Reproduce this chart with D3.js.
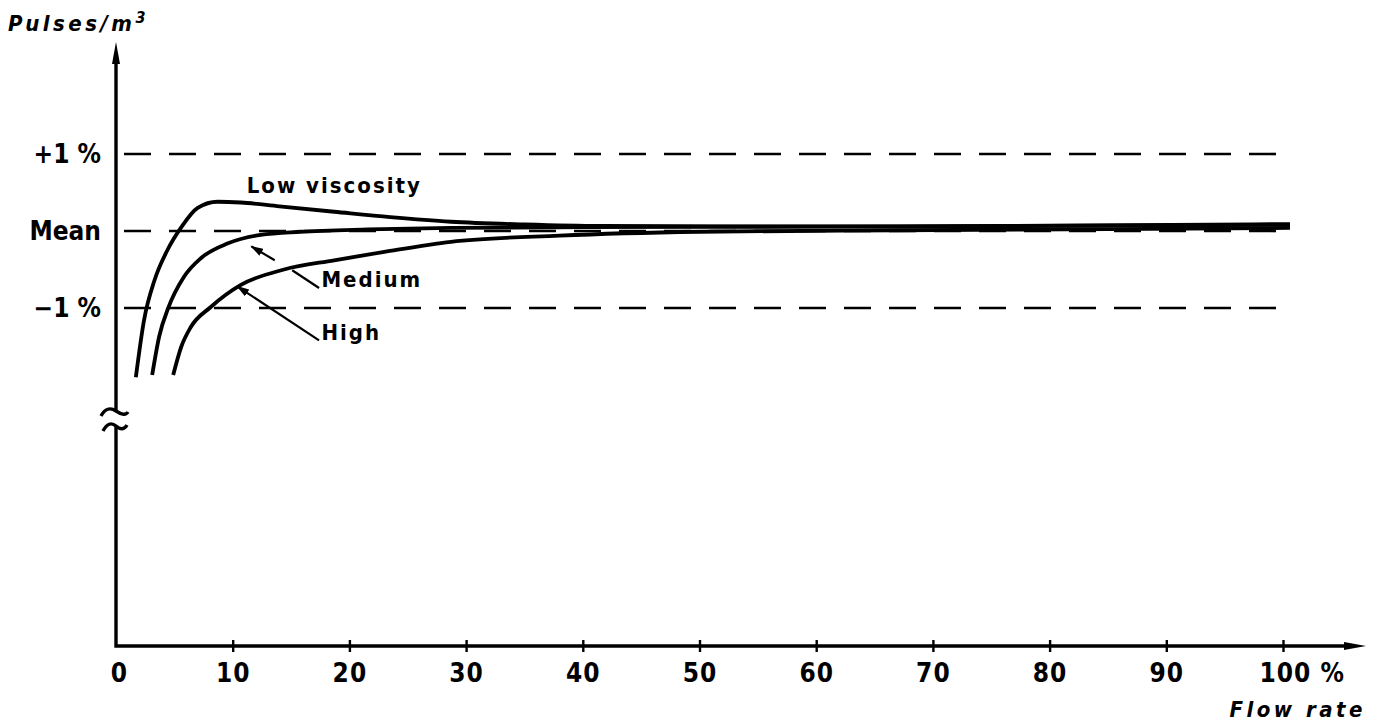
<!DOCTYPE html>
<html>
  <head>
    <meta charset="UTF-8">
    <style>
      body {
        margin: 0;
        background: white;
      }

      text {
        font-family: "DejaVu Sans Condensed", "DejaVu Sans", sans-serif;
        font-weight: bold;
        fill: #000;
      }

      .x-axis text {
        font-size: 26px;
        letter-spacing: 1px;
      }

      .y-axis text {
        font-size: 26px;
      }

      .note {
        font-size: 22px;
        letter-spacing: 2px;
      }

      .title {
        font-size: 22px;
        font-style: italic;
        letter-spacing: 3.5px;
      }
    </style>
    <script src="https://d3js.org/d3.v7.min.js"></script>
  </head>

  <body>
    <svg id="chart"></svg>

    <script type="text/javascript">
      // flow rate in %, deviation from mean in %
      let lowFlow = [1.7, 2.4, 3.3, 4.4, 5.6, 7.0, 8.7, 10.7, 14.0, 18.7, 23.5, 28.7, 35, 41.5, 55, 67, 80, 100.6]
      let lowDev = [-1.9, -1.16, -0.64, -0.25, 0.05, 0.30, 0.38, 0.37, 0.32, 0.25, 0.18, 0.12, 0.085, 0.065, 0.06, 0.06, 0.07, 0.09]

      let mediumFlow = [3.1, 3.7, 4.5, 5.8, 7.3, 9.6, 12.4, 15.8, 21.6, 28.7, 40, 55, 70, 85, 100.6]
      let mediumDev = [-1.87, -1.37, -0.99, -0.6, -0.35, -0.16, -0.05, -0.01, 0.02, 0.04, 0.05, 0.055, 0.06, 0.07, 0.08]

      let highFlow = [4.9, 5.6, 6.4, 8.1, 10.7, 14.4, 18.7, 23, 28.7, 38, 50, 67, 85, 100.6]
      let highDev = [-1.87, -1.5, -1.25, -0.99, -0.7, -0.5, -0.38, -0.27, -0.14, -0.06, -0.01, 0.01, 0.025, 0.04]

      let xTicks = [0, 10, 20, 30, 40, 50, 60, 70, 80, 90, 100]
      let xTickLabels = ['0', '10', '20', '30', '40', '50', '60', '70', '80', '90', '100 %']

      let yTicks = [1, 0, -1]
      let yTickLabels = ['+1 %', 'Mean', '−1 %']

      let seriesNames = ['Low viscosity', 'Medium', 'High']

      function getChartConfig() {
        let width = 1378
        let height = 724
        let origin = { x: 116, y: 646 }
        let axisTop = 42
        let axisRight = 1366
        let breakTop = 411
        let breakBottom = 426

        let container = d3.select('#chart')
          .attr('width', width)
          .attr('height', height)

        return { width, height, origin, axisTop, axisRight, breakTop, breakBottom, container }
      }

      function getScales(config) {
        let x = d3.scaleLinear()
          .domain([0, 100])
          .range([config.origin.x, 1283])

        let y = d3.scaleLinear()
          .domain([-1, 1])
          .range([308, 154])

        return { x, y }
      }

      function buildSeries() {
        let flows = [lowFlow, mediumFlow, highFlow]
        let devs = [lowDev, mediumDev, highDev]
        return seriesNames.map((name, i) => ({
          name: name,
          points: flows[i].map((f, j) => ({ flow: f, dev: devs[i][j] }))
        }))
      }

      function drawDefs(config) {
        config.container.append('defs')
          .append('marker')
          .attr('id', 'head')
          .attr('viewBox', '0 0 10 10')
          .attr('preserveAspectRatio', 'none')
          .attr('refX', 9)
          .attr('refY', 5)
          .attr('markerWidth', 13)
          .attr('markerHeight', 8)
          .attr('markerUnits', 'userSpaceOnUse')
          .attr('orient', 'auto')
          .append('path')
          .attr('d', 'M0,0 L10,5 L0,10 Z')
          .attr('fill', '#000')
      }

      function drawGuides(scales, config) {
        config.container.append('g')
          .attr('class', 'guides')
          .selectAll('line')
          .data(yTicks)
          .enter()
          .append('line')
          .attr('x1', config.origin.x)
          .attr('x2', d => d === 0 ? scales.x(100.6) : scales.x(100))
          .attr('y1', d => scales.y(d))
          .attr('y2', d => scales.y(d))
          .attr('stroke', '#000')
          .attr('stroke-width', 2.6)
          .attr('stroke-dasharray', '27 18')
          .attr('stroke-dashoffset', -8)
      }

      function drawCurves(series, scales, config) {
        let line = d3.line()
          .x(d => scales.x(d.flow))
          .y(d => scales.y(d.dev))
          .curve(d3.curveMonotoneX)

        config.container.append('g')
          .attr('class', 'curves')
          .selectAll('path')
          .data(series)
          .enter()
          .append('path')
          .attr('d', d => line(d.points))
          .attr('fill', 'none')
          .attr('stroke', '#000')
          .attr('stroke-width', 3.8)
          .attr('stroke-linecap', 'butt')
      }

      function drawAxes(scales, config) {
        let o = config.origin
        let g = config.container.append('g').attr('class', 'axes')

        // y axis with break
        g.append('line')
          .attr('x1', o.x).attr('x2', o.x)
          .attr('y1', config.breakTop).attr('y2', config.axisTop + 18)
          .attr('stroke', '#000').attr('stroke-width', 3.4)
        g.append('path')
          .attr('d', `M${o.x},${config.axisTop} L${o.x + 4},${config.axisTop + 22} L${o.x - 4},${config.axisTop + 22} Z`)
          .attr('fill', '#000')

        g.append('path')
          .attr('d', `M${o.x},${config.breakBottom} L${o.x},${o.y} L${config.axisRight - 18},${o.y}`)
          .attr('fill', 'none')
          .attr('stroke', '#000').attr('stroke-width', 3.4)
        g.append('path')
          .attr('d', `M${config.axisRight},${o.y} L${config.axisRight - 22},${o.y - 4} L${config.axisRight - 22},${o.y + 4} Z`)
          .attr('fill', '#000')

        let b1 = config.breakTop, b2 = config.breakBottom
        g.append('path')
          .attr('d', `M${o.x - 15},${b1 + 5} Q${o.x - 9},${b1 - 6} ${o.x},${b1} T${o.x + 12},${b1 + 1}`)
          .attr('fill', 'none').attr('stroke', '#000').attr('stroke-width', 3.4)
        g.append('path')
          .attr('d', `M${o.x - 13},${b2 + 5} Q${o.x - 7},${b2 - 6} ${o.x},${b2} T${o.x + 11},${b2 - 1}`)
          .attr('fill', 'none').attr('stroke', '#000').attr('stroke-width', 3.4)

        // x axis ticks and labels
        let axisX = d3.axisBottom(scales.x)
          .tickValues(xTicks)
          .tickFormat((d, i) => xTickLabels[i])
          .tickSize(6)
          .tickPadding(12)

        let xg = g.append('g')
          .attr('class', 'x-axis')
          .attr('transform', `translate(0, ${o.y})`)
          .call(axisX)
        xg.select('.domain').remove()
        xg.selectAll('.tick line')
          .attr('y1', -6)
          .attr('stroke-width', 2.4)
          .style('display', d => d === 0 ? 'none' : null)
        xg.selectAll('.tick text')
          .attr('fill', '#000')
          .attr('text-anchor', d => d === 100 ? 'start' : 'middle')
          .attr('dx', d => d === 100 ? -24 : d === 0 ? 3 : 0)

        // y axis labels
        let axisY = d3.axisLeft(scales.y)
          .tickValues(yTicks)
          .tickFormat((d, i) => yTickLabels[i])
          .tickSize(0)
          .tickPadding(15)

        let yg = g.append('g')
          .attr('class', 'y-axis')
          .attr('transform', `translate(${o.x}, 0)`)
          .call(axisY)
        yg.select('.domain').remove()
        yg.selectAll('.tick text').attr('fill', '#000')
      }

      function drawNotes(scales, config) {
        let g = config.container.append('g').attr('class', 'notes')

        g.append('text').attr('class', 'note')
          .attr('x', scales.x(11.2)).attr('y', scales.y(0.5))
          .text(seriesNames[0])
        g.append('text').attr('class', 'note')
          .attr('x', scales.x(17.6)).attr('y', scales.y(-0.73))
          .text(seriesNames[1])
        g.append('text').attr('class', 'note')
          .attr('x', scales.x(17.6)).attr('y', scales.y(-1.41))
          .text(seriesNames[2])

        let leader = (a, b, head) => g.append('line')
          .attr('x1', scales.x(a[0])).attr('y1', scales.y(a[1]))
          .attr('x2', scales.x(b[0])).attr('y2', scales.y(b[1]))
          .attr('stroke', '#000').attr('stroke-width', 2.2)
          .attr('marker-end', head ? 'url(#head)' : null)

        leader([13.6, -0.38], [11.6, -0.2], true)
        leader([15.1, -0.51], [17.4, -0.74], false)
        leader([17.4, -1.42], [10.4, -0.72], true)

        let title = config.container.append('text')
          .attr('class', 'title')
          .attr('x', 8).attr('y', 31)
        title.append('tspan').text('Pulses/m')
        title.append('tspan')
          .attr('dy', -8)
          .style('font-size', '16px')
          .text('3')

        config.container.append('text')
          .attr('class', 'title')
          .attr('x', 1366).attr('y', 717)
          .attr('text-anchor', 'end')
          .text('Flow rate')
      }

      function showChart() {
        let config = getChartConfig()
        let scales = getScales(config)
        let series = buildSeries()

        drawDefs(config)
        drawGuides(scales, config)
        drawCurves(series, scales, config)
        drawAxes(scales, config)
        drawNotes(scales, config)
      }

      showChart()
    </script>
  </body>
</html>
